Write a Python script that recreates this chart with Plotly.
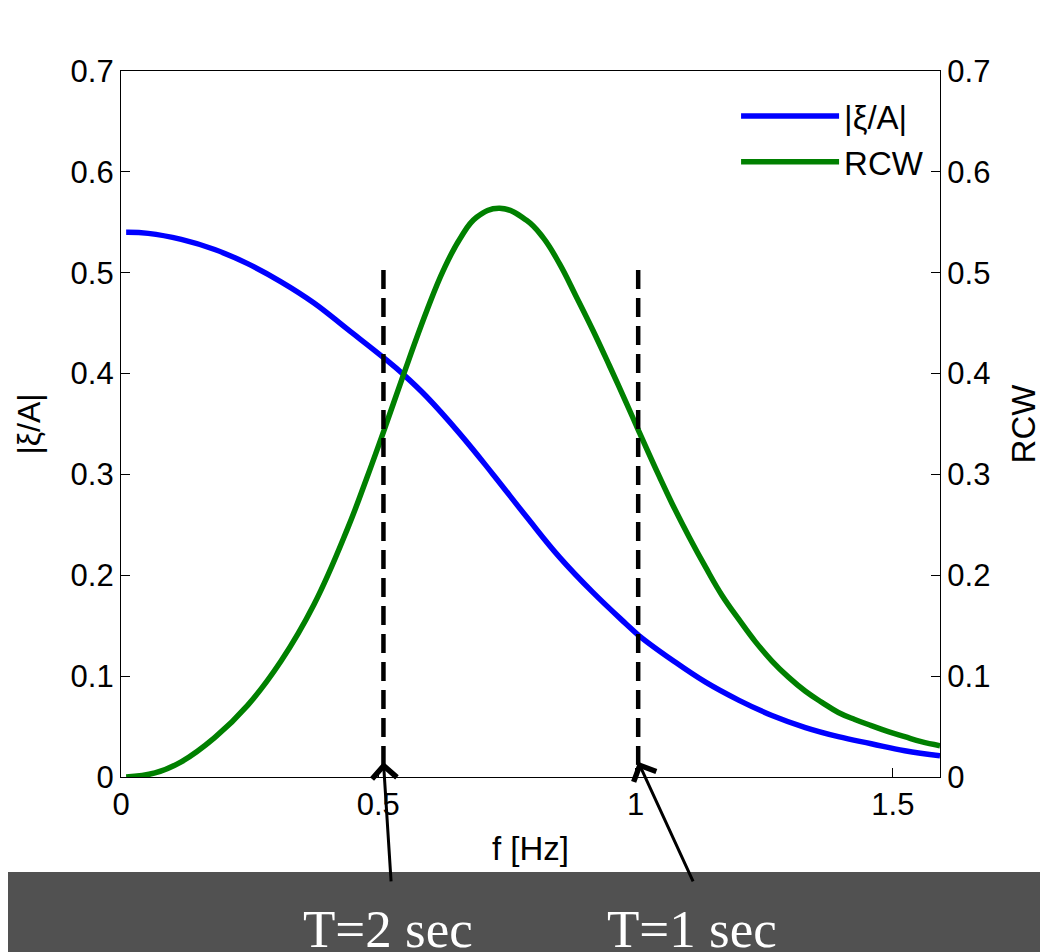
import plotly.graph_objects as go

# blue curve |xi/A|
f_xi = [0.01, 0.053, 0.117, 0.182, 0.246, 0.311, 0.375, 0.44, 0.512, 0.549,
        0.594, 0.659, 0.723, 0.788, 0.852, 0.917, 0.981, 1.007, 1.071, 1.136,
        1.201, 1.265, 1.33, 1.394, 1.458, 1.523, 1.5915]
xi_amp = [0.540, 0.539, 0.533, 0.523, 0.509, 0.491, 0.470, 0.444, 0.415, 0.399,
          0.377, 0.340, 0.300, 0.258, 0.218, 0.183, 0.152, 0.140, 0.116, 0.094,
          0.076, 0.061, 0.049, 0.040, 0.033, 0.026, 0.021]

# green curve RCW
f_rcw = [0.01, 0.066, 0.117, 0.182, 0.246, 0.311, 0.375, 0.44, 0.478, 0.512,
         0.549, 0.594, 0.627, 0.659, 0.691, 0.736, 0.788, 0.82, 0.852, 0.884,
         0.917, 0.949, 0.981, 1.007, 1.046, 1.071, 1.104, 1.136, 1.168, 1.201,
         1.233, 1.265, 1.297, 1.33, 1.362, 1.394, 1.426, 1.458, 1.491, 1.523,
         1.555, 1.5915]
rcw = [0.0, 0.004, 0.015, 0.039, 0.071, 0.115, 0.171, 0.246, 0.297, 0.345,
       0.399, 0.462, 0.503, 0.534, 0.555, 0.564, 0.552, 0.535, 0.509, 0.477,
       0.443, 0.408, 0.372, 0.342, 0.298, 0.271, 0.238, 0.208, 0.180, 0.156,
       0.134, 0.115, 0.099, 0.085, 0.074, 0.064, 0.057, 0.051, 0.045, 0.040,
       0.035, 0.031]

# dashed markers for the two wave periods
period_f = [0.51, 1.005]
period_labels = ['T=2 sec', 'T=1 sec']

font_main = 'Liberation Sans, Arial, sans-serif'

fig = go.Figure()

fig.add_trace(go.Scatter(x=f_xi, y=xi_amp, mode='lines', name='|ξ/A|',
                         line=dict(color='#0000ff', width=5.5, shape='spline',
                                   smoothing=1.2)))
fig.add_trace(go.Scatter(x=f_rcw, y=rcw, mode='lines', name='RCW', yaxis='y2',
                         line=dict(color='#008000', width=5.5, shape='spline',
                                   smoothing=1.2)))

# white slide area behind the chart, dark band at the bottom
fig.add_shape(type='rect', xref='paper', yref='paper',
              x0=-0.2, x1=1.2, y0=-0.1346, y1=1.2,
              fillcolor='white', line_width=0, layer='below')

tails = [(0.525, -0.105), (1.113, -0.105)]
label_x = [0.3265, 0.6966]
for pf, lab, (tx, ty), lx in zip(period_f, period_labels, tails, label_x):
    fig.add_shape(type='line', xref='x', yref='y', x0=pf, x1=pf, y0=0.012, y1=0.507,
                  line=dict(color='black', width=4.5, dash='19px,9px'))
    fig.add_annotation(x=pf, y=0.015, xref='x', yref='y', ax=tx, ay=ty,
                       axref='x', ayref='y', text='', showarrow=True,
                       arrowhead=4, arrowsize=1.6, arrowwidth=3, arrowcolor='black',
                       standoff=0)
    fig.add_annotation(x=lx, y=-0.2153, xref='paper', yref='paper', text=lab,
                       showarrow=False, xanchor='center', yanchor='middle',
                       font=dict(family='Liberation Serif, Times New Roman, serif',
                                 size=53, color='white'))

axis_common = dict(showline=True, linecolor='black', linewidth=1.3,
                   ticks='inside', ticklen=9, tickcolor='black', tickwidth=1.3,
                   showgrid=False, zeroline=False,
                   tickfont=dict(family=font_main, size=31, color='black'))

# the page body adds an 8px offset, so the figure is 8px smaller than the window
fig.update_layout(
    width=1040, height=944,
    margin=dict(l=113, r=103, t=63, b=175),
    paper_bgcolor='#515151', plot_bgcolor='white',
    font=dict(family=font_main, size=31, color='black'),
    xaxis=dict(range=[0, 1.5915], tickvals=[0, 0.5, 1, 1.5], mirror=True,
               title=dict(text='f [Hz]', font=dict(size=33), standoff=15),
               **axis_common),
    yaxis=dict(range=[0, 0.7], dtick=0.1,
               title=dict(text='|ξ/A|', font=dict(size=32), standoff=20),
               **axis_common),
    yaxis2=dict(range=[0, 0.7], dtick=0.1, overlaying='y', side='right',
                title=dict(text='RCW', font=dict(size=33), standoff=22),
                **axis_common),
    legend=dict(x=0.751, y=0.976, xanchor='left', yanchor='top',
                bgcolor='rgba(0,0,0,0)', borderwidth=0, itemwidth=98,
                tracegroupgap=0,
                font=dict(family=font_main, size=33, color='black')),
    showlegend=True,
)

fig.write_html('out.html')
